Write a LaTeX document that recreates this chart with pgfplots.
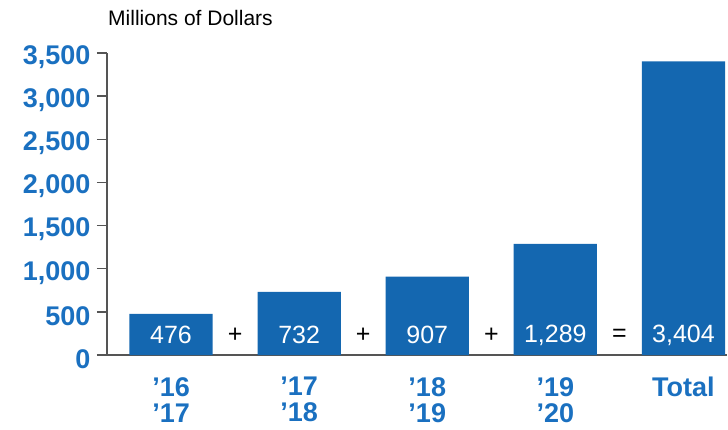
\documentclass[border=0pt]{standalone}
\usepackage{pgfplots}
\pgfplotsset{compat=1.18}
\usepackage{fontspec}
\setmainfont{Liberation Sans}
\definecolor{barblue}{RGB}{20,103,176}
\definecolor{lblblue}{RGB}{26,112,192}
\definecolor{axgray}{RGB}{85,85,85}
\begin{document}
\begin{tikzpicture}
\useasboundingbox (-107pt,-74pt) rectangle (621pt,355pt);
\begin{axis}[
  at={(0pt,0pt)}, anchor=south west,
  scale only axis, width=620pt, height=302pt,
  xmin=-0.5, xmax=4.34, ymin=0, ymax=3500,
  axis x line*=bottom, axis y line*=left,
  axis line style={axgray, line width=1.5pt},
  xtick={0,1,2,3,4},
  xticklabels={{’16\\’17},{’17\\’18},{’18\\’19},{’19\\’20},{Total}},
  xticklabel style={align=center, font=\fontsize{27}{26}\selectfont\bfseries, text=lblblue, inner sep=0pt, yshift=-12pt},
  x tick style={draw=none},
  ytick={0,500,...,3500},
  yticklabel style={font=\fontsize{27}{28}\selectfont\bfseries, text=lblblue, yshift=-4pt, xshift=-3pt},
  y tick style={axgray, line width=1.5pt},
  tick align=outside, major tick length=10pt,
  /pgf/number format/assume math mode=true,
  /pgf/number format/1000 sep={,},
  scaled y ticks=false,
  clip=false,
]
\addplot[ybar, bar width=0.65, fill=barblue, draw=none] coordinates {(0,476) (1,732) (2,907) (3,1289) (4,3404)};
\addplot[only marks, mark=none, point meta=explicit symbolic,
  nodes near coords, nodes near coords align={center},
  every node near coord/.append style={font=\fontsize{25}{25}\selectfont, text=white, anchor=center}]
  table[meta=lab] {
x y lab
0 232 476
1 232 732
2 232 907
3 232 1{,}289
4 232 3{,}404
};
\addplot[only marks, mark=none, point meta=explicit symbolic,
  nodes near coords, nodes near coords align={center},
  every node near coord/.append style={font=\fontsize{25}{25}\selectfont, text=black, anchor=center}]
  table[meta=lab] {
x y lab
0.5 232 +
1.5 232 +
2.5 232 +
3.5 232 =
};
\end{axis}
\node[anchor=west, font=\fontsize{21}{21}\selectfont, inner sep=0pt] at (1pt,337pt) {Millions of Dollars};
\end{tikzpicture}
\end{document}
